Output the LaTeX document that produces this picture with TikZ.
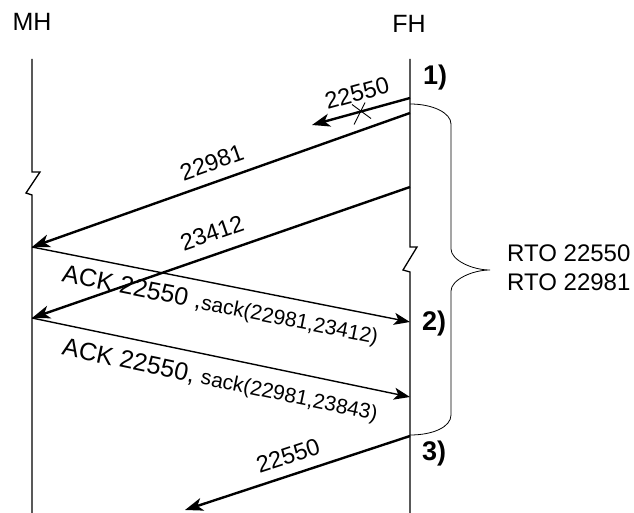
\documentclass[tikz,border=0pt]{standalone}
\usepackage{fontspec}
\setmainfont{Liberation Sans}
\usetikzlibrary{arrows.meta}
\newcommand{\sackfont}{\fontsize{21}{24}\selectfont}

\begin{document}
\begin{tikzpicture}[x=1pt,y=-1pt,>={Stealth[length=18pt,width=13pt,inset=5pt]},
  life/.style={line width=1.3pt},
  seg/.style={line width=2.4pt,->},
  ack/.style={line width=1.4pt,-{Stealth[length=16pt,width=12pt,inset=4pt]}},
  lbl/.style={font=\fontsize{23.5}{26}\selectfont,inner sep=2pt,sloped},
  acklbl/.style={font=\fontsize{25}{28}\selectfont,inner sep=2pt,sloped},
  hdr/.style={font=\fontsize{24}{28}\selectfont,inner sep=0pt},
  phase/.style={font=\fontsize{27}{30}\selectfont\bfseries,inner sep=0pt}]
\useasboundingbox (0,0) rectangle (634,513);
\node[hdr,font=\fontsize{25}{28}\selectfont] (mh) at (32,21.5) {MH};
\node[hdr,font=\fontsize{25}{28}\selectfont] (fh) at (409,23.5) {FH};
% lifelines with break marks
\draw[life] (32,59) -- (32,172) -- (40,172) -- (26,193) -- (32,195) -- (32,513);
\draw[life] (410,59) -- (410,247) -- (417,247) -- (403,270) -- (410,272) -- (410,513);
\coordinate (f1) at (410,98);
\coordinate (l1) at (312,125);
\coordinate (f2) at (410,113);
\coordinate (m2) at (32,247);
\coordinate (f3) at (410,187);
\coordinate (m3) at (32,318);
\coordinate (f4) at (410,322);
\coordinate (f5) at (410,397);
\coordinate (f6) at (410,436);
\coordinate (l6) at (185,510);
% segments
\draw[seg] (f1) -- (l1) node[lbl,pos=0.49,above=7pt] {22550} coordinate[pos=0.5] (lost);
\draw[line width=0.9pt] ([shift={(-9,-7)}]lost) -- ([shift={(10,7)}]lost);
\draw[line width=0.9pt] ([shift={(-7,13)}]lost) -- ([shift={(4,-9)}]lost);
\draw[seg] (f2) -- (m2) node[lbl,pos=0.507,above=8pt] {22981};
\draw[seg] (f3) -- (m3) node[lbl,pos=0.505,above=10pt] {23412};
\draw[ack] (m2) -- (f4) node[acklbl,pos=0.509,below=8pt] {ACK 22550 ,{\sackfont sack(22981,23412)}};
\draw[ack] (m3) -- (f5) node[acklbl,pos=0.51,below=10pt] {ACK 22550, {\sackfont sack(22981,23843)}};
\draw[seg] (f6) -- (l6) node[lbl,pos=0.515,above=8pt] {22550};
% timer brace
\draw[line width=0.8pt] (410,104) .. controls (433,104) and (451,113) .. (451,124) -- (451,249)
  .. controls (451,260) and (472,270) .. (490,270) .. controls (472,270) and (451,280) .. (451,291)
  -- (451,415) .. controls (451,427) and (433,435) .. (410,435);
\node[hdr,anchor=base west] (rto1) at (507,261) {RTO 22550};
\node[hdr,anchor=base west] (rto2) at (507,290) {RTO 22981};
\node[phase] (p1) at (435,78) {1)};
\node[phase] (p2) at (434,324) {2)};
\node[phase] (p3) at (434,454) {3)};
\end{tikzpicture}
\end{document}
